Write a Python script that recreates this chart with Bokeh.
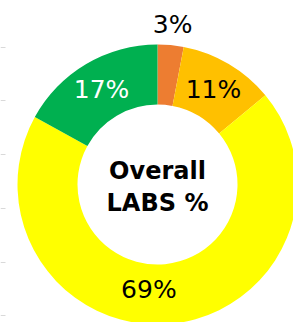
import numpy as np
from bokeh.plotting import figure
from bokeh.models import ColumnDataSource, Range1d
from bokeh.core.properties import value
from bokeh.embed import file_html
from bokeh.resources import INLINE

# ---- data ----
categories = ["Orange", "Amber", "Yellow", "Green"]
percent = [3, 11, 69, 17]
labels = ["3%", "11%", "69%", "17%"]
center_lines = ["Overall", "LABS %"]
stub_y = [137, 84, 30, -24, -78, -131]   # faint gridline stubs at left edge

# ---- style ----
colors = ["#ED7D31", "#FFC000", "#FFFF00", "#00B050"]
label_colors = ["#000000", "#000000", "#000000", "#FFFFFF"]
label_xoff = [0, 0, -19, 0]
label_yoff = [0, 0, -5, 0]
FONT = "DejaVu Sans"
inner_r, outer_r = 80, 140

frac = np.array(percent, dtype=float) / sum(percent)
cum = np.concatenate([[0], np.cumsum(frac)])
start = np.pi / 2 - 2 * np.pi * cum[:-1]
end = np.pi / 2 - 2 * np.pi * cum[1:]
mid = (start + end) / 2
lab_r = np.where(frac < 0.05, 161, 110)

src = ColumnDataSource(dict(cat=categories, start=start, end=end, color=colors))
lsrc = ColumnDataSource(dict(
    x=lab_r * np.cos(mid), y=lab_r * np.sin(mid), text=labels,
    color=label_colors, xo=label_xoff, yo=label_yoff))

p = figure(width=293, height=322, output_backend="svg", toolbar_location=None,
           x_range=Range1d(-157, 136), y_range=Range1d(-138, 184),
           min_border=0, outline_line_color=None)
p.axis.visible = False
p.grid.visible = False

p.segment(x0=-157, x1=-152, y0=stub_y, y1=stub_y, line_color="#D9D9D9", line_width=1)

p.annular_wedge(x=0, y=0, inner_radius=inner_r, outer_radius=outer_r,
                start_angle="start", end_angle="end", direction="clock",
                fill_color="color", line_color=None, source=src)

p.text(x="x", y="y", text="text", text_color="color", x_offset="xo", y_offset="yo",
       text_align="center", text_baseline="middle", text_font=value(FONT),
       text_font_size="25px", source=lsrc)

p.text(x=[0, 0], y=[14, -18], text=center_lines, text_align="center",
       text_baseline="middle", text_font=value(FONT), text_font_style="bold",
       text_font_size="24px", text_color="#000000")

open("out.html", "w").write(file_html(p, INLINE))
